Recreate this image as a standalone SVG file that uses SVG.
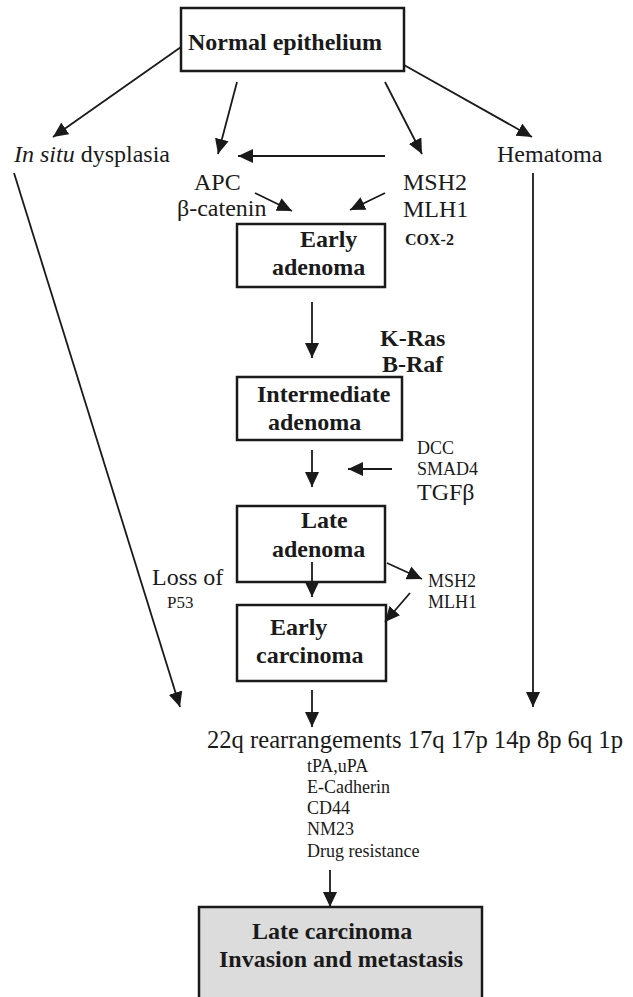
<svg xmlns="http://www.w3.org/2000/svg" width="633" height="997" viewBox="0 0 633 997">
<defs>
<marker id="ah" markerUnits="userSpaceOnUse" markerWidth="16" markerHeight="14" refX="15" refY="7" orient="auto">
<path d="M0,0 L15,7 L0,14 z" fill="#1a1a1a"/>
</marker>
<style>
text{font-family:"Liberation Serif","Times New Roman",serif;fill:#1a1a1a}
.b{font-weight:bold;font-size:24px}
.n{font-size:24px}
.s{font-size:18px}
.box{fill:#fff;stroke:#1a1a1a;stroke-width:2.5}
.c line{stroke:#1a1a1a;stroke-width:1.8;marker-end:url(#ah)}
</style>
</defs>
<rect width="633" height="997" fill="#fff"/>

<g id="normal-epithelium">
<rect class="box" x="181" y="8" width="223" height="63"/>
<text class="b" x="188" y="50">Normal epithelium</text>
</g>
<g id="in-situ-dysplasia"><text class="n" x="14" y="162"><tspan font-style="italic">In situ</tspan> dysplasia</text></g>
<g id="hematoma"><text class="n" x="497" y="162">Hematoma</text></g>
<g id="apc"><text class="n" x="194" y="190">APC</text><text class="n" x="177" y="216">β-catenin</text></g>
<g id="msh2-top"><text class="n" x="403" y="190">MSH2</text><text class="n" x="403" y="217">MLH1</text><text x="405" y="245" font-weight="bold" font-size="16">COX-2</text></g>
<g id="early-adenoma">
<rect class="box" x="237" y="224" width="148" height="63"/>
<text class="b" x="300" y="247">Early</text>
<text class="b" x="272" y="275">adenoma</text>
</g>
<g id="kras"><text class="b" x="380" y="346">K-Ras</text><text class="b" x="382" y="372">B-Raf</text></g>
<g id="intermediate-adenoma">
<rect class="box" x="237" y="377" width="165" height="63"/>
<text class="b" x="257" y="402">Intermediate</text>
<text class="b" x="268" y="430">adenoma</text>
</g>
<g id="dcc"><text class="s" x="417" y="454">DCC</text><text class="s" x="417" y="475">SMAD4</text><text class="n" x="417" y="500">TGFβ</text></g>
<g id="late-adenoma">
<rect class="box" x="237" y="506" width="148" height="76"/>
<text class="b" x="301" y="528">Late</text>
<text class="b" x="272" y="557">adenoma</text>
</g>
<g id="loss-p53"><text class="n" x="152" y="585">Loss of</text><text x="167" y="608" font-size="17">P53</text></g>
<g id="msh2-low"><text class="s" x="428" y="587">MSH2</text><text class="s" x="428" y="608">MLH1</text></g>
<g id="early-carcinoma">
<rect class="box" x="237" y="605" width="149" height="76"/>
<text class="b" x="270" y="635">Early</text>
<text class="b" x="256" y="663">carcinoma</text>
</g>
<g id="rearrangements"><text x="207" y="748" font-size="24.6">22q rearrangements 17q 17p 14p 8p 6q 1p</text></g>
<g id="markers">
<text class="s" x="307" y="772">tPA,uPA</text>
<text class="s" x="307" y="793">E-Cadherin</text>
<text class="s" x="307" y="814">CD44</text>
<text class="s" x="307" y="835">NM23</text>
<text class="s" x="307" y="857">Drug resistance</text>
</g>
<g id="late-carcinoma">
<rect x="199" y="907" width="283" height="100" fill="#dcdcdc" stroke="#1a1a1a" stroke-width="2.5"/>
<text class="b" x="252" y="939">Late carcinoma</text>
<text class="b" x="219" y="967">Invasion and metastasis</text>
</g>

<g id="connectors" class="c">
<line x1="181" y1="47" x2="53" y2="137"/>
<line x1="237" y1="82" x2="218" y2="154"/>
<line x1="385" y1="82" x2="422" y2="154"/>
<line x1="404" y1="65" x2="532" y2="137"/>
<line x1="385" y1="156" x2="238" y2="156"/>
<line x1="255" y1="193" x2="292" y2="211"/>
<line x1="385" y1="193" x2="350" y2="210"/>
<line x1="312" y1="302" x2="312" y2="358"/>
<line x1="312" y1="450" x2="312" y2="487"/>
<line x1="392" y1="469" x2="348" y2="469"/>
<line x1="312" y1="562" x2="312" y2="597"/>
<line x1="387" y1="563" x2="422" y2="579"/>
<line x1="410" y1="593" x2="385" y2="622"/>
<line x1="312" y1="690" x2="312" y2="727"/>
<line x1="14" y1="173" x2="180" y2="707"/>
<line x1="533" y1="173" x2="533" y2="707"/>
<line x1="330" y1="870" x2="330" y2="907"/>
</g>
</svg>
